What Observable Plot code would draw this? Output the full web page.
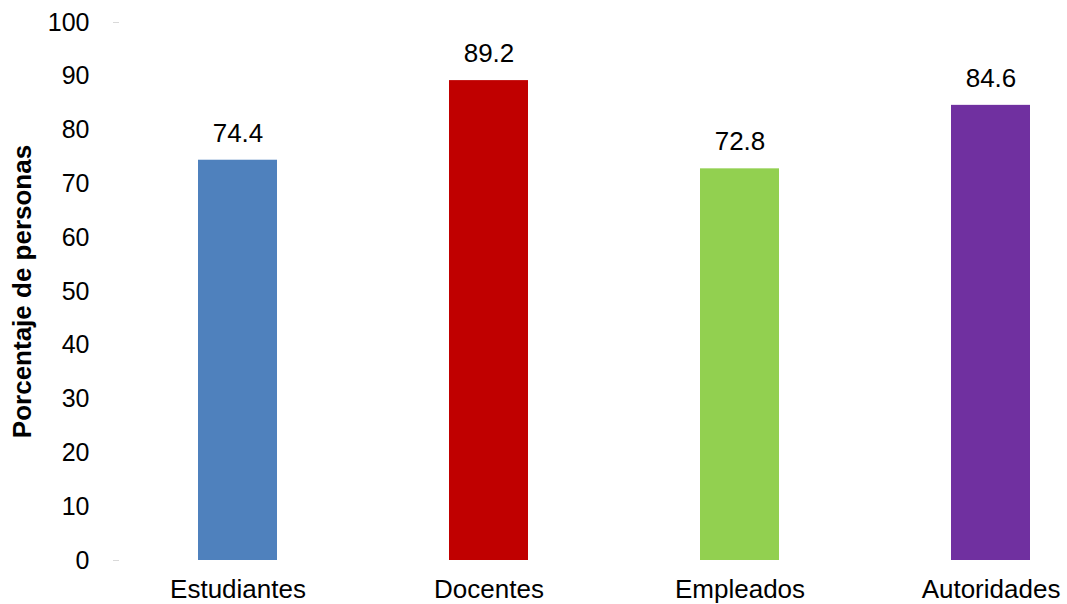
<!DOCTYPE html>
<html><head><meta charset="utf-8">
<script src="https://cdn.jsdelivr.net/npm/d3@7"></script>
<script src="https://cdn.jsdelivr.net/npm/@observablehq/plot@0.6"></script>
<style>body{margin:0;background:#fff;font-family:"Liberation Sans",Arial,sans-serif;}</style>
</head><body><div id="chart"></div>
<script>
const categories = ["Estudiantes", "Docentes", "Empleados", "Autoridades"];
const values = [74.4, 89.2, 72.8, 84.6];
const colors = ["#4F81BD", "#C00000", "#92D050", "#7030A0"];
const yTicks = [0, 10, 20, 30, 40, 50, 60, 70, 80, 90, 100];

const data = categories.map((c, i) => ({cat: c, v: values[i], color: colors[i]}));

const chart = Plot.plot({
  width: 1067,
  height: 604,
  marginLeft: 119,
  marginRight: 0,
  marginTop: 22,
  marginBottom: 44,
  style: {fontFamily: "'Liberation Sans', Arial, sans-serif", fontSize: "25px", color: "#000", background: "#fff"},
  x: {domain: categories, range: [112.5, 1116.5], paddingInner: 0.685, paddingOuter: 0.3425, label: null},
  y: {domain: [0, 100], range: [560, 22], label: null},
  marks: [
    Plot.barY(data, {x: "cat", y: "v", fill: "color"}),
    Plot.text(data, {x: "cat", y: "v", text: d => d.v.toFixed(1), dy: -27, fontSize: 26, fill: "#000"}),
    Plot.axisX({tickSize: 0, tickPadding: 19, fontSize: 26, fill: "#000"}),
    Plot.axisY({ticks: yTicks, tickSize: 0, tickPadding: 30, fontSize: 25, fill: "#000", label: null}),
    Plot.axisY({ticks: [0, 100], tickSize: 6, stroke: "#d9d9d9", text: null, label: null}),
    Plot.text(["Porcentaje de personas"], {frameAnchor: "left", text: d => d, rotate: -90, textAnchor: "middle", dx: -(119 - 22), fontWeight: "bold", fontSize: 26, fill: "#000"})
  ]
});
document.getElementById("chart").append(chart);
</script>
</body></html>
